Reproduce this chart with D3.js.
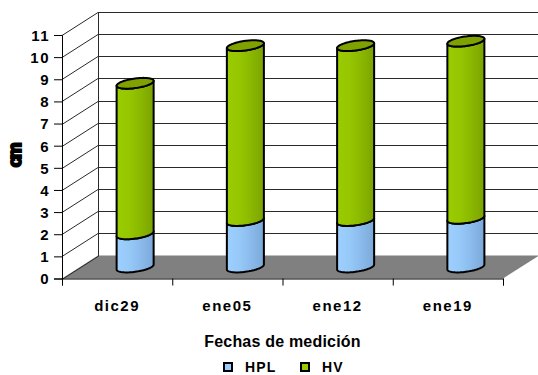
<!DOCTYPE html>
<html>
<head>
<meta charset="utf-8">
<script src="https://cdn.jsdelivr.net/npm/d3@7"></script>
<style>
  html, body { margin: 0; padding: 0; background: #fff; }
  svg { display: block; }
  text { font-family: "Liberation Sans", Arial, sans-serif; font-weight: bold; fill: #000; }
</style>
</head>
<body>
<svg id="chart" width="538" height="375"></svg>
<script>
// Measurement dates and stacked heights per date
const categories = ["dic29", "ene05", "ene12", "ene19"];
const hplValues = [1.5, 2.1, 2.1, 2.2];
const hvValues = [6.8, 7.9, 7.9, 8.0];
const seriesNames = ["HPL", "HV"];
const yTicks = [0, 1, 2, 3, 4, 5, 6, 7, 8, 9, 10, 11];
const xTitle = "Fechas de medición";
const yTitle = "cm";

const svg = d3.select("#chart");

// Front plane of the 3-D box, plus the oblique depth offset
const x = d3.scaleBand().domain(categories).range([62, 503]).padding(0);
const y = d3.scaleLinear().domain([0, 11]).range([278.5, 35]);
const DX = 36, DY = -23;

const defs = svg.append("defs");
function cylGradient(id, stops) {
  const g = defs.append("linearGradient").attr("id", id)
    .attr("x1", "0%").attr("x2", "100%").attr("y1", "0%").attr("y2", "0%");
  stops.forEach(s => g.append("stop").attr("offset", s[0]).attr("stop-color", s[1]));
}
cylGradient("gHPL", [["0%", "#9dd0ff"], ["35%", "#96c8f8"], ["60%", "#8cbdee"], ["85%", "#82b0e0"], ["100%", "#7ba8d8"]]);
cylGradient("gHV", [["0%", "#9acc00"], ["35%", "#95c600"], ["60%", "#8cba00"], ["85%", "#82ac00"], ["100%", "#7aa200"]]);
const topFill = { HV: "#80a200", HPL: "#86b4e4" };

// Back wall and side wall
const y0 = y(0), yTop = y(11);
const xL = x.range()[0], xR = x.range()[1];
svg.append("rect").attr("x", xL + DX).attr("y", yTop + DY)
  .attr("width", xR - xL).attr("height", y0 - yTop).attr("fill", "#fff");

// Floor
svg.append("path")
  .attr("d", `M${xL},${y0}L${xR},${y0}L${xR + DX},${y0 + DY}L${xL + DX},${y0 + DY}Z`)
  .attr("fill", "#808080");

// Gridlines: back wall horizontals and side wall diagonals
const grid = svg.append("g").attr("stroke", "#2a2a2a").attr("stroke-width", 1).attr("fill", "none");
yTicks.forEach(v => {
  const yy = Math.round(y(v)) + 0.5;
  if (v > 0) {
    grid.append("line").attr("x1", xL + DX).attr("x2", xR + DX)
      .attr("y1", yy + DY).attr("y2", yy + DY);
  }
  grid.append("line").attr("x1", xL).attr("y1", yy).attr("x2", xL + DX).attr("y2", yy + DY);
});
grid.append("line").attr("x1", xL + DX + 0.5).attr("x2", xL + DX + 0.5)
  .attr("y1", Math.round(yTop) + DY + 0.5).attr("y2", Math.round(y0) + DY + 0.5);

// Axes on the front plane
const yAxis = svg.append("g").attr("transform", `translate(${xL},0)`)
  .call(d3.axisLeft(y).tickValues(yTicks).tickSize(8).tickPadding(4).tickFormat(d3.format("d")));
yAxis.select(".domain").attr("stroke", "#000");
yAxis.selectAll(".tick line").attr("stroke", "#000");
yAxis.selectAll("text").attr("font-size", 15).attr("letter-spacing", 1.5)
  .attr("dy", "0.36em").attr("fill", "#000");

const xAxisBase = d3.scaleLinear().domain([0, categories.length]).range([xL, xR]);
const xAxis = svg.append("g").attr("transform", `translate(0,${y0})`)
  .call(d3.axisBottom(xAxisBase).ticks(categories.length).tickSize(7).tickFormat(""));
xAxis.select(".domain").attr("stroke", "#000");
xAxis.selectAll(".tick line").attr("stroke", "#000");

svg.append("g").selectAll("text").data(categories).join("text")
  .attr("x", d => x(d) + x.bandwidth() / 2)
  .attr("y", 311)
  .attr("text-anchor", "middle")
  .attr("font-size", 15)
  .attr("letter-spacing", 1.5)
  .text(d => d);

// Cylinders
const R = 16.5, EX = 8.4, EY = 5.4;
const t0 = Math.atan2(EX, R);
function ellPt(cx, cy, t) { return [cx + R * Math.cos(t) + EX * Math.sin(t), cy - EY * Math.sin(t)]; }
function arcPts(cx, cy, a, b, n) {
  const pts = [];
  for (let i = 0; i <= n; i++) pts.push(ellPt(cx, cy, a + (b - a) * i / n));
  return pts;
}
const lineGen = d3.line();

const stacked = categories.map((c, i) => ({
  cat: c,
  segs: [
    { name: "HPL", v0: 0, v1: hplValues[i] },
    { name: "HV", v0: hplValues[i], v1: hplValues[i] + hvValues[i] }
  ]
}));

const bars = svg.append("g").selectAll("g").data(stacked).join("g");
bars.each(function (d) {
  const g = d3.select(this);
  const cx = x(d.cat) + x.bandwidth() / 2 + DX / 2;
  d.segs.forEach((s, k) => {
    const cyB = y(s.v0) + DY / 2, cyT = y(s.v1) + DY / 2;
    const front = arcPts(cx, cyB, t0 + Math.PI, t0 + 2 * Math.PI, 40);
    const frontTop = arcPts(cx, cyT, t0 + 2 * Math.PI, t0 + Math.PI, 40);
    g.append("path").attr("d", lineGen(front.concat(frontTop)) + "Z")
      .attr("fill", `url(#g${s.name})`).attr("stroke", "#000")
      .attr("stroke-width", 2).attr("stroke-linejoin", "round");
    if (k === d.segs.length - 1) {
      const full = arcPts(cx, cyT, 0, 2 * Math.PI, 80);
      g.append("path").attr("d", lineGen(full) + "Z")
        .attr("fill", topFill[s.name]).attr("stroke", "#000").attr("stroke-width", 2);
    }
  });
});

// Axis titles
svg.append("text").attr("x", 282.5).attr("y", 347).attr("text-anchor", "middle")
  .attr("font-size", 16).attr("letter-spacing", 0.2).text(xTitle);
svg.append("text").attr("transform", "translate(21,156) rotate(-90)")
  .attr("text-anchor", "middle").attr("font-size", 19).attr("font-weight", 900)
  .attr("letter-spacing", -2.5).attr("stroke", "#000").attr("stroke-width", 2).text(yTitle);

// Legend
const legendX = [223, 300];
const legendColors = ["#99ccff", "#99cc00"];
const legend = svg.append("g").selectAll("g").data(seriesNames).join("g")
  .attr("transform", (d, i) => `translate(${legendX[i]},362)`);
legend.append("rect").attr("x", 1).attr("y", 1).attr("width", 8).attr("height", 8)
  .attr("fill", (d, i) => legendColors[i]).attr("stroke", "#000").attr("stroke-width", 2);
legend.append("text").attr("x", 22).attr("y", 10).attr("font-size", 14)
  .attr("letter-spacing", 1.2).text(d => d);
</script>
</body>
</html>
